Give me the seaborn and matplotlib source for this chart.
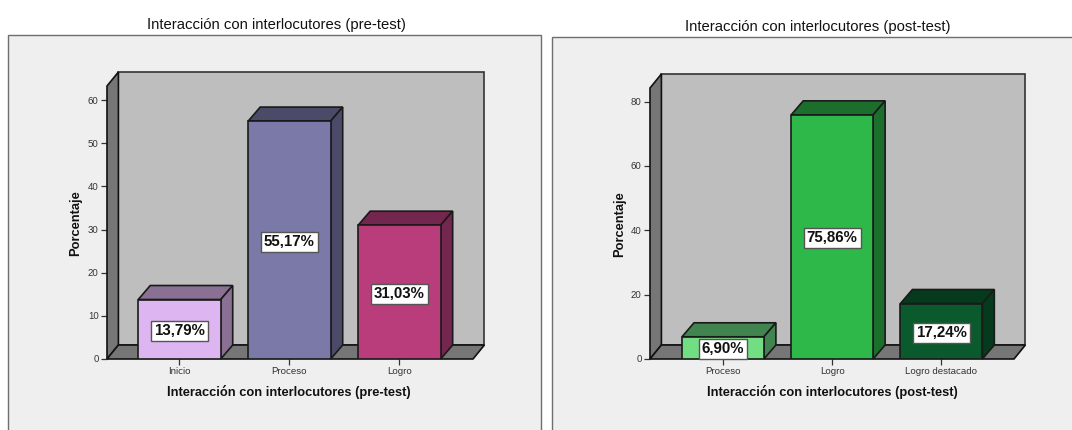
import pandas as pd
import matplotlib
matplotlib.use("Agg")
import matplotlib.pyplot as plt
from matplotlib.patches import Polygon, Rectangle
import seaborn as sns

pre_cats = ["Inicio", "Proceso", "Logro"]
pre_vals = [13.79, 55.17, 31.03]
pre_ticks = [0, 10, 20, 30, 40, 50, 60]
pre_front = ["#DDB6F1", "#7A79A8", "#B93C7B"]
pre_dark = ["#8A7093", "#4B4B69", "#74274E"]

post_cats = ["Proceso", "Logro", "Logro destacado"]
post_vals = [6.90, 75.86, 17.24]
post_ticks = [0, 20, 40, 60, 80]
post_front = ["#72DD82", "#2EB84A", "#0A5A2E"]
post_dark = ["#41844F", "#1C6E2D", "#063A1D"]

W, H = 1072, 430
DEPTH_X, DEPTH_Y = 12, 14

sns.set_theme(style="white")
plt.rcParams["font.family"] = ["Liberation Sans", "DejaVu Sans"]
plt.rcParams["text.hinting"] = "no_autohint"

fig = plt.figure(figsize=(W / 100, H / 100), dpi=100, facecolor="white")


def draw_panel(cats, vals, ticks, front, dark, name, frame, box, ymax, xlim, title_xy, xlab_xy, ylab_xy):
    # frame and box are pixel positions, y counted from the top
    fx0, fy0, fx1 = frame
    fig.add_artist(Rectangle((fx0 / W, -0.1), (fx1 - fx0) / W, 1.1 - fy0 / H, transform=fig.transFigure,
                             facecolor="#EFEFEF", edgecolor="#6E6E6E", linewidth=1.0, zorder=0))
    x0, ytop, x1, y0 = box
    ax = fig.add_axes([x0 / W, 1 - y0 / H, (x1 - x0) / W, (y0 - ytop) / H], zorder=2)
    ax.patch.set_visible(False)

    df = pd.DataFrame({"cat": cats, "pct": vals})
    sns.barplot(data=df, x="cat", y="pct", hue="cat", palette=front, saturation=1, legend=False,
                width=0.75, edgecolor="#1A1A1A", linewidth=1.2, ax=ax, zorder=3)
    ax.set_xlim(*xlim)
    ax.set_ylim(0, ymax)

    # pixel depth turned into data units
    ddx = DEPTH_X * (xlim[1] - xlim[0]) / (x1 - x0)
    ddy = DEPTH_Y * ymax / (y0 - ytop)
    wall_dx = ddx * 0.95
    xa, xb = xlim
    ax.add_patch(Polygon([(xa + wall_dx, ddy), (xb + wall_dx, ddy), (xb + wall_dx, ymax + ddy), (xa + wall_dx, ymax + ddy)],
                         facecolor="#BEBEBE", edgecolor="#333333", linewidth=1.2, clip_on=False, zorder=0.5))
    ax.add_patch(Polygon([(xa, 0), (xa + wall_dx, ddy), (xa + wall_dx, ymax + ddy), (xa, ymax)],
                         facecolor="#767676", edgecolor="#111111", linewidth=1.2, clip_on=False, zorder=0.6))
    ax.add_patch(Polygon([(xa, 0), (xb, 0), (xb + wall_dx, ddy), (xa + wall_dx, ddy)],
                         facecolor="#767676", edgecolor="#111111", linewidth=1.2, clip_on=False, zorder=0.7))

    for bar, shade, v in zip(ax.patches[:len(vals)], dark, vals):
        bx, bw, bh = bar.get_x(), bar.get_width(), bar.get_height()
        ax.add_patch(Polygon([(bx, bh), (bx + bw, bh), (bx + bw + ddx, bh + ddy), (bx + ddx, bh + ddy)],
                             facecolor=shade, edgecolor="#1A1A1A", linewidth=1.2, clip_on=False, zorder=2.5))
        ax.add_patch(Polygon([(bx + bw, 0), (bx + bw + ddx, ddy), (bx + bw + ddx, bh + ddy), (bx + bw, bh)],
                             facecolor=shade, edgecolor="#1A1A1A", linewidth=1.2, clip_on=False, zorder=2.5))
        ax.text(bx + bw / 2, bh / 2, f"{v:.2f}%".replace(".", ","), ha="center", va="center_baseline", fontsize=10.8,
                fontweight="bold", color="#111111", zorder=5,
                bbox=dict(boxstyle="square,pad=0.2", facecolor="white", edgecolor="#555555", linewidth=1.0))

    sns.despine(ax=ax, left=True, bottom=True, top=True, right=True)
    ax.set_yticks(ticks)
    ax.tick_params(axis="both", which="major", bottom=True, left=True, length=4, width=0.9, color="#333333",
                   labelcolor="#333333", labelsize=6.9, pad=2)
    ax.tick_params(axis="x", pad=1.5)

    def ax_x(px):
        return (px - x0) / (x1 - x0)

    def ax_y(py):
        return (y0 - py) / (y0 - ytop)

    ax.set_title(f"Interacción con interlocutores ({name})", x=ax_x(title_xy[0]), y=ax_y(title_xy[1]),
                 fontsize=10.7, color="#111111", va="center", pad=0)
    ax.set_xlabel(f"Interacción con interlocutores ({name})", fontsize=9.3, fontweight="bold", color="#111111")
    ax.xaxis.set_label_coords(ax_x(xlab_xy[0]), ax_y(xlab_xy[1]))
    ax.xaxis.label.set_va("center")
    ax.set_ylabel("Porcentaje", fontsize=9.3, fontweight="bold", color="#111111")
    ax.yaxis.set_label_coords(ax_x(ylab_xy[0]), ax_y(ylab_xy[1]))
    ax.yaxis.label.set_va("center")
    return ax


draw_panel(pre_cats, pre_vals, pre_ticks, pre_front, pre_dark, "pre-test",
           frame=(8, 35, 541), box=(107, 86, 473, 359), ymax=63.3, xlim=(-0.659, 2.669),
           title_xy=(276, 25), xlab_xy=(289, 392), ylab_xy=(76, 223))
draw_panel(post_cats, post_vals, post_ticks, post_front, post_dark, "post-test",
           frame=(552, 37, 1090), box=(650, 88, 1014, 359), ymax=84.2, xlim=(-0.668, 2.665),
           title_xy=(818, 27), xlab_xy=(832, 392), ylab_xy=(620, 224))

fig.savefig("out.png", dpi=100)
